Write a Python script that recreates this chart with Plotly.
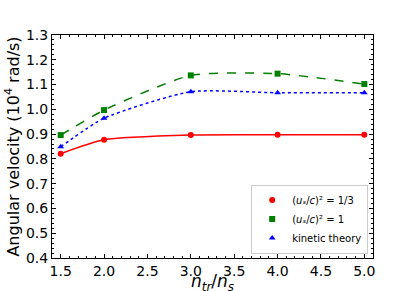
import plotly.graph_objects as go

ratio = [1.5, 2.0, 3.0, 4.0, 5.0]
omega_third = [0.821, 0.877, 0.896, 0.897, 0.897]
omega_one = [0.896, 0.997, 1.137, 1.144, 1.102]
omega_kinetic = [0.849, 0.964, 1.071, 1.067, 1.067]

series = [
    ("(<i>u</i><i>ₛ</i>/<i>c</i>)² = 1/3", omega_third, "red", "circle", "solid"),
    ("(<i>u</i><i>ₛ</i>/<i>c</i>)² = 1", omega_one, "green", "square", "dash"),
    ("kinetic theory", omega_kinetic, "blue", "triangle-up", "dot"),
]

fig = go.Figure()
for name, ys, col, sym, dash in series:
    fig.add_trace(go.Scatter(x=ratio, y=ys, mode="lines",
                             line=dict(color=col, dash=dash, width=1.5, shape="spline", smoothing=0.6),
                             showlegend=False, hoverinfo="skip"))
for name, ys, col, sym, dash in series:
    fig.add_trace(go.Scatter(x=ratio, y=ys, mode="markers", name=name,
                             marker=dict(color=col, symbol=sym, size=6)))

axis_common = dict(showline=True, linecolor="black", linewidth=1, mirror="allticks",
                   ticks="inside", ticklen=4, tickcolor="black", showgrid=False, zeroline=False,
                   automargin=False,
                   tickfont=dict(family="DejaVu Sans", size=14, color="black"))

fig.update_xaxes(range=[1.4, 5.1], dtick=0.5, tickformat=".1f",
                 minor=dict(ticks="inside", ticklen=2, dtick=0.1, tickcolor="black"),
                 **axis_common)
fig.update_yaxes(range=[0.4, 1.3], dtick=0.1, tickformat=".1f",
                 minor=dict(ticks="inside", ticklen=2, dtick=0.02, tickcolor="black"),
                 title=dict(text="Angular velocity (10<sup>4</sup> rad/s)",
                            font=dict(family="DejaVu Sans", size=16, color="black"), standoff=2),
                 **axis_common)

fig.add_annotation(text="<i>n</i><sub><i>tr</i></sub>/<i>n</i><sub><i>s</i></sub>",
                   xref="paper", yref="paper", x=0.5, y=0, xanchor="center", yanchor="top",
                   yshift=-11, showarrow=False,
                   font=dict(family="DejaVu Sans", size=17, color="black"))

fig.update_layout(
    width=415, height=291,
    margin=dict(l=52, r=42, t=35, b=33),
    plot_bgcolor="white", paper_bgcolor="white",
    legend=dict(x=0.985, y=0.02, xanchor="right", yanchor="bottom",
                bgcolor="white", bordercolor="#cccccc", borderwidth=1,
                font=dict(family="DejaVu Sans", size=10, color="black"),
                itemwidth=30, tracegroupgap=0),
)

fig.write_html("out.html", config={"displayModeBar": False},
               post_script="document.body.style.margin='0';document.body.style.overflow='hidden';")
